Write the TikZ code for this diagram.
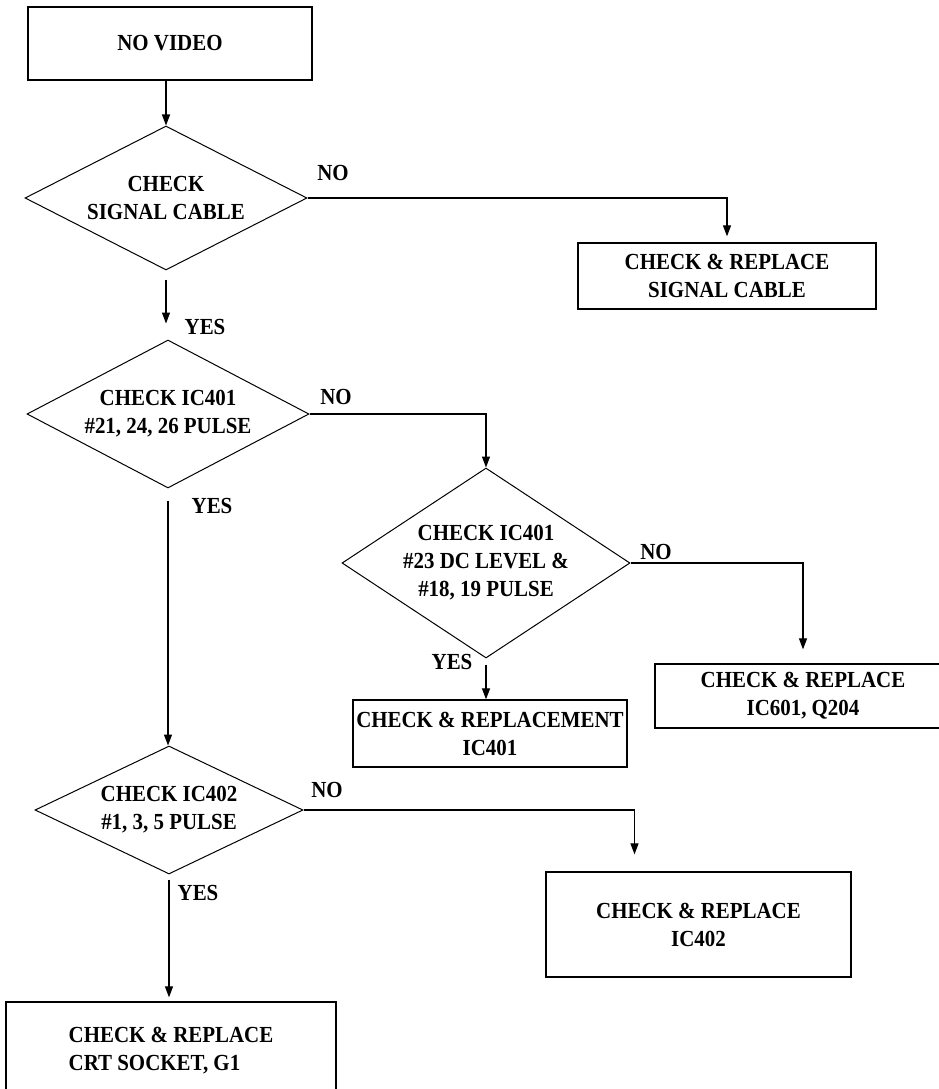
\documentclass[tikz,border=0pt]{standalone}
\usepackage{fontspec}
\setmainfont{Liberation Serif}[FakeStretch=0.91]
\usetikzlibrary{shapes.geometric, arrows.meta}

\tikzset{
	txt/.style={font=\fontsize{23}{28}\selectfont\bfseries, align=center},
	box/.style={txt, draw, line width=1.3pt, inner sep=0pt},
	test/.style={txt, diamond, draw, line width=1pt, inner sep=0pt},
	arr/.style={line width=1.2pt, -{Triangle[length=11pt,width=8pt]}}
}

\begin{document}
\begin{tikzpicture}[x=1pt, y=-1pt]
		\useasboundingbox (0,0) rectangle (938,1089);
		\node[box, minimum width=284, minimum height=73] (novideo) at (170,43.5) {NO VIDEO};
		\node[test, minimum width=282, minimum height=144, aspect=1.96] (cable) at (166,198) {CHECK\\SIGNAL CABLE};
		\node[box, minimum width=298, minimum height=66] (repcable) at (727,276) {CHECK \& REPLACE\\SIGNAL CABLE};
		\node[test, minimum width=282, minimum height=148, aspect=1.9] (pulse) at (168,414) {CHECK IC401\\\#21, 24, 26 PULSE};
		\node[test, minimum width=288, minimum height=190, aspect=1.5] (level) at (486,563) {CHECK IC401\\\#23 DC LEVEL \&\\\#18, 19 PULSE};
		\node[box, minimum width=274, minimum height=67] (repic401) at (490,733.5) {CHECK \& REPLACEMENT\\IC401};
		\node[box, minimum width=296, minimum height=64] (repic601) at (803,696) {CHECK \& REPLACE\\IC601, Q204};
		\node[test, minimum width=268, minimum height=128, aspect=2.09] (ic402) at (169,810) {CHECK IC402\\\#1, 3, 5 PULSE};
		\node[box, minimum width=305, minimum height=105] (repic402) at (698.5,924.5) {CHECK \& REPLACE\\IC402};
		\node[box, minimum width=330, minimum height=98, align=left] (repcrt) at (171,1051) {CHECK \& REPLACE\\CRT SOCKET, G1};

		\node[txt] (no1) at (333,173) {NO};
		\node[txt] (yes1) at (205,327) {YES};
		\node[txt] (no2) at (336,397) {NO};
		\node[txt] (yes2) at (212,506) {YES};
		\node[txt] (no3) at (656,552) {NO};
		\node[txt] (yes3) at (452,662) {YES};
		\node[txt] (no4) at (327,790) {NO};
		\node[txt] (yes4) at (198,893) {YES};

		\draw[arr] (novideo.south -| cable.north) -- (cable.north);
		\draw[arr, shorten >=6pt] (cable.east) -| (repcable.north);
		\draw[arr, shorten <=9pt, shorten >=16pt] (cable.south) -- (cable.south |- pulse.north);
		\draw[arr] (pulse.east) -| (level.north);
		\draw[arr, shorten <=6pt] (level.south) -- (level.south |- repic401.north);
		\draw[arr, shorten >=14pt] (level.east) -| (repic601.north);
		\draw[arr, shorten <=12pt] (pulse.south) -- (pulse.south |- ic402.north);
		\draw[arr, shorten >=17pt] (ic402.east) -| ([xshift=-64pt]repic402.north);
		\draw[arr, shorten <=5pt, shorten >=4pt] (ic402.south) -- (ic402.south |- repcrt.north);
	\end{tikzpicture}
\end{document}
